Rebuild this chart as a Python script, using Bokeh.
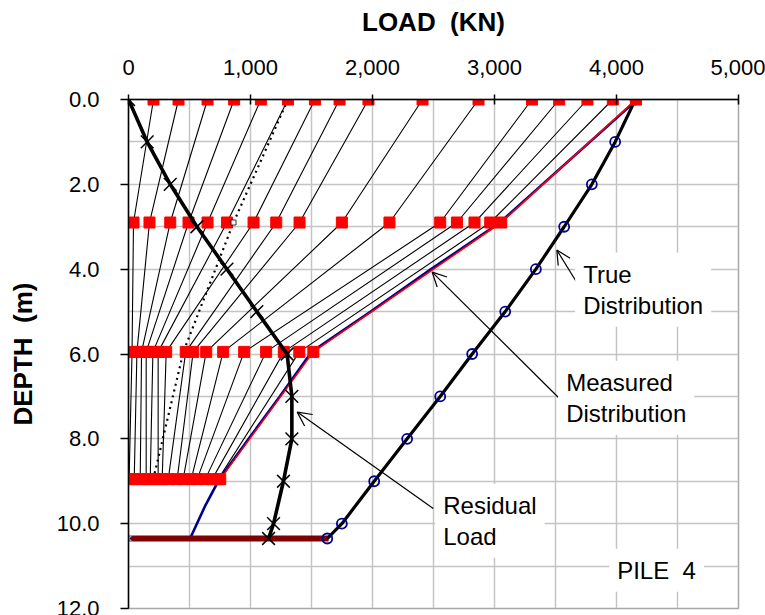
from bokeh.plotting import figure
from bokeh.models import (Range1d, FixedTicker, NumeralTickFormatter, Label,
                          Arrow, OpenHead)
from bokeh.embed import file_html
from bokeh.resources import INLINE

FONT = "Liberation Sans"

# Strain-gauge depths (m) and pile toe depth
gauge_depths = [0.0, 2.9, 5.95, 8.95]
toe_depth = 10.35

# Load (kN) at each gauge level for every load increment of the test
load_head = [205, 410, 648, 866, 1085, 1307, 1528, 1730, 1967, 2410, 2869, 3307, 3530, 3762, 3970, 4160]
load_g1 = [41, 172, 342, 492, 648, 807, 1025, 1211, 1402, 1749, 2139, 2555, 2692, 2836, 2965, 3055]
load_g2 = [29, 69, 107, 145, 200, 243, 309, 469, 530, 637, 776, 948, 1128, 1273, 1400, 1515]
load_g3 = [5, 47, 96, 145, 178, 243, 276, 326, 399, 448, 514, 563, 629, 686, 735, 752]

# Unloading record (dotted)
unload_loads = [1307, 861, 450, 203]

# Fitted measured distribution at maximum load
meas_depths = [0.0, 2.9, 4.0, 5.0, 5.95, 7.0, 8.0, 8.95, 9.6, 10.35]
meas_loads = [4170, 3045, 2480, 1985, 1500, 1240, 985, 745, 625, 505]

# True and residual load distributions
dist_depths = [0, 1, 2, 3, 4, 5, 6, 7, 8, 9, 10, 10.35]
true_loads = [4155, 3989, 3798, 3571, 3339, 3088, 2817, 2555, 2284, 2014, 1749, 1629]
resid_loads = [0, 153, 342, 561, 807, 1052, 1300, 1339, 1339, 1270, 1189, 1148]

# Toe load
toe_load = 1640

x_ticks = [0, 1000, 2000, 3000, 4000, 5000]
y_ticks = [0, 2, 4, 6, 8, 10, 12]

p = figure(width=765, height=615, x_range=Range1d(0, 5000), y_range=Range1d(12, 0),
           x_axis_location="above", output_backend="svg", toolbar_location=None,
           min_border_left=128, min_border_right=27, min_border_top=99,
           min_border_bottom=7)
p.background_fill_color = "white"
p.border_fill_color = "white"
p.outline_line_color = "#a8a8a8"
p.outline_line_width = 1.5

# grid
p.xgrid.ticker = FixedTicker(ticks=list(range(0, 5001, 500)))
p.ygrid.ticker = FixedTicker(ticks=list(range(0, 13)))
for g in (p.xgrid, p.ygrid):
    g.grid_line_color = "#c4c4c4"
    g.grid_line_width = 1.5

# axes
xa = p.xaxis[0]
xa.ticker = FixedTicker(ticks=x_ticks)
xa.formatter = NumeralTickFormatter(format="0,0")
xa.axis_label = "LOAD \u00a0(KN)"
xa.major_tick_in = 5
xa.major_tick_out = 5
xa.major_label_standoff = 20
xa.axis_label_standoff = 20

ya = p.yaxis[0]
ya.ticker = FixedTicker(ticks=y_ticks)
ya.formatter = NumeralTickFormatter(format="0.0")
ya.axis_label = "DEPTH \u00a0(m)"
ya.major_tick_in = 0
ya.major_tick_out = 8
ya.major_label_standoff = 21
ya.axis_label_standoff = 16

for ax in (xa, ya):
    ax.minor_tick_in = 0
    ax.minor_tick_out = 0
    ax.axis_line_color = "black"
    ax.axis_line_width = 1.5
    ax.major_tick_line_color = "black"
    ax.major_tick_line_width = 1.5
    ax.major_label_text_font = FONT
    ax.major_label_text_font_size = "22px"
    ax.major_label_text_color = "black"
    ax.axis_label_text_font = FONT
    ax.axis_label_text_font_size = "26px"
    ax.axis_label_text_font_style = "bold"
    ax.axis_label_text_color = "black"

# load-increment profiles
n = len(load_head)
profiles = [[load_head[i], load_g1[i], load_g2[i], load_g3[i]] for i in range(n)]
p.multi_line(xs=profiles[:-1], ys=[gauge_depths] * (n - 1), line_color="black", line_width=1.1)

# unloading profile
p.line(unload_loads, gauge_depths, line_color="black", line_width=2.2, line_dash="2 4")

# measured distribution (fit) and maximum-load profile
p.line(meas_loads, meas_depths, line_color="#000090", line_width=2.6)
p.line(profiles[-1], gauge_depths, line_color="#ff0000", line_width=1.6)

# toe load
p.line([0, toe_load], [toe_depth, toe_depth], line_color="#800000", line_width=6)

# true distribution
p.line(true_loads, dist_depths, line_color="black", line_width=3.2)
p.scatter(true_loads, dist_depths, marker="circle", size=10, fill_color=None,
          line_color="#000090", line_width=1.8)

# gauge readings
sq_x = load_head + load_g1 + load_g2 + load_g3
sq_y = [d for d in gauge_depths for _ in range(n)]
p.scatter(sq_x, sq_y, marker="square", size=11, fill_color="#ff0000", line_color="#ff0000")
p.scatter([unload_loads[1]], [gauge_depths[1]], marker="square", size=5,
          fill_color="white", line_color="black", line_width=0.8)

# residual load
p.line(resid_loads, dist_depths, line_color="black", line_width=3.6)
p.scatter(resid_loads, dist_depths, marker="x", size=18, line_color="black", line_width=1.5)
p.scatter([0], [toe_depth], marker="x", size=9, line_color="#7fb2ff", line_width=1.5)

# annotations
arrows = [
    ((3676, 4.32), (3511, 3.55)),
    ((3522, 7.02), (2489, 4.07)),
    ((2498, 9.64), (1383, 7.37)),
]
for (xs0, ys0), (xe, ye) in arrows:
    p.add_layout(Arrow(end=OpenHead(size=14, line_width=1.2, line_color="black"),
                       x_start=xs0, y_start=ys0, x_end=xe, y_end=ye,
                       line_color="black", line_width=1.2))

notes = [
    (3661, 3.61, "True\nDistribution"),
    (3522, 6.16, "Measured\nDistribution"),
    (2514, 9.06, "Residual\nLoad"),
    (3940, 10.59, "PILE \u00a04"),
]
for x, y, t in notes:
    p.add_layout(Label(x=x, y=y, text=t, text_align="left", text_baseline="top",
                       text_font=FONT, text_font_size="24px", text_color="black",
                       text_line_height=1.15, background_fill_color="white",
                       padding=8))

open("out.html", "w").write(file_html(p, INLINE))
